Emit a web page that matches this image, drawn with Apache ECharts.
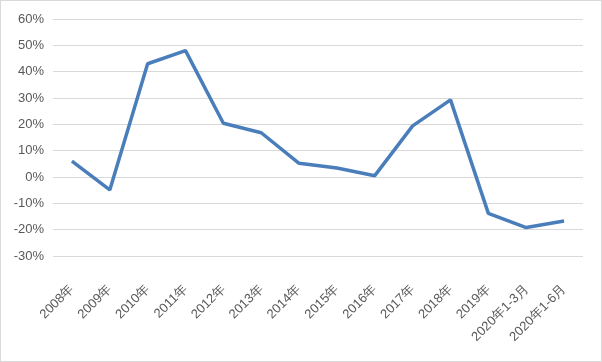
<!DOCTYPE html>
<html><head><meta charset="utf-8">
<script src="https://cdn.jsdelivr.net/npm/echarts@6/dist/echarts.min.js"></script>
<style>html,body{margin:0;padding:0;background:#fff}#c{width:602px;height:362px;box-sizing:border-box;border:1px solid #d9d9d9}</style>
</head><body><div id="c"></div>
<script>
const categories = ['2008年','2009年','2010年','2011年','2012年','2013年','2014年','2015年','2016年','2017年','2018年','2019年','2020年1-3月','2020年1-6月'];
const values = [6.0, -4.9, 43.0, 48.0, 20.4, 16.8, 5.2, 3.4, 0.5, 19.4, 29.3, -13.8, -19.2, -16.7];
const chart = echarts.init(document.getElementById('c'));
chart.setOption({
  animation:false,
  grid:{left:52,right:18,top:18,bottom:105},
  xAxis:{type:'category',data:categories,boundaryGap:true,
    axisLine:{show:false},axisTick:{show:false},
    axisLabel:{rotate:45,interval:0,color:'#595959',fontSize:13,fontFamily:'Liberation Sans, sans-serif',margin:31}},
  yAxis:{type:'value',min:-30,max:60,interval:10,
    axisLine:{show:false},axisTick:{show:false},
    axisLabel:{formatter:'{value}%',color:'#595959',fontSize:13,fontFamily:'Liberation Sans, sans-serif',margin:9},
    splitLine:{lineStyle:{color:'#d9d9d9',width:1}}},
  series:[{type:'line',data:values,symbol:'none',lineStyle:{color:'#4a7ebb',width:3.5},itemStyle:{color:'#4a7ebb'}}]
});
</script></body></html>
